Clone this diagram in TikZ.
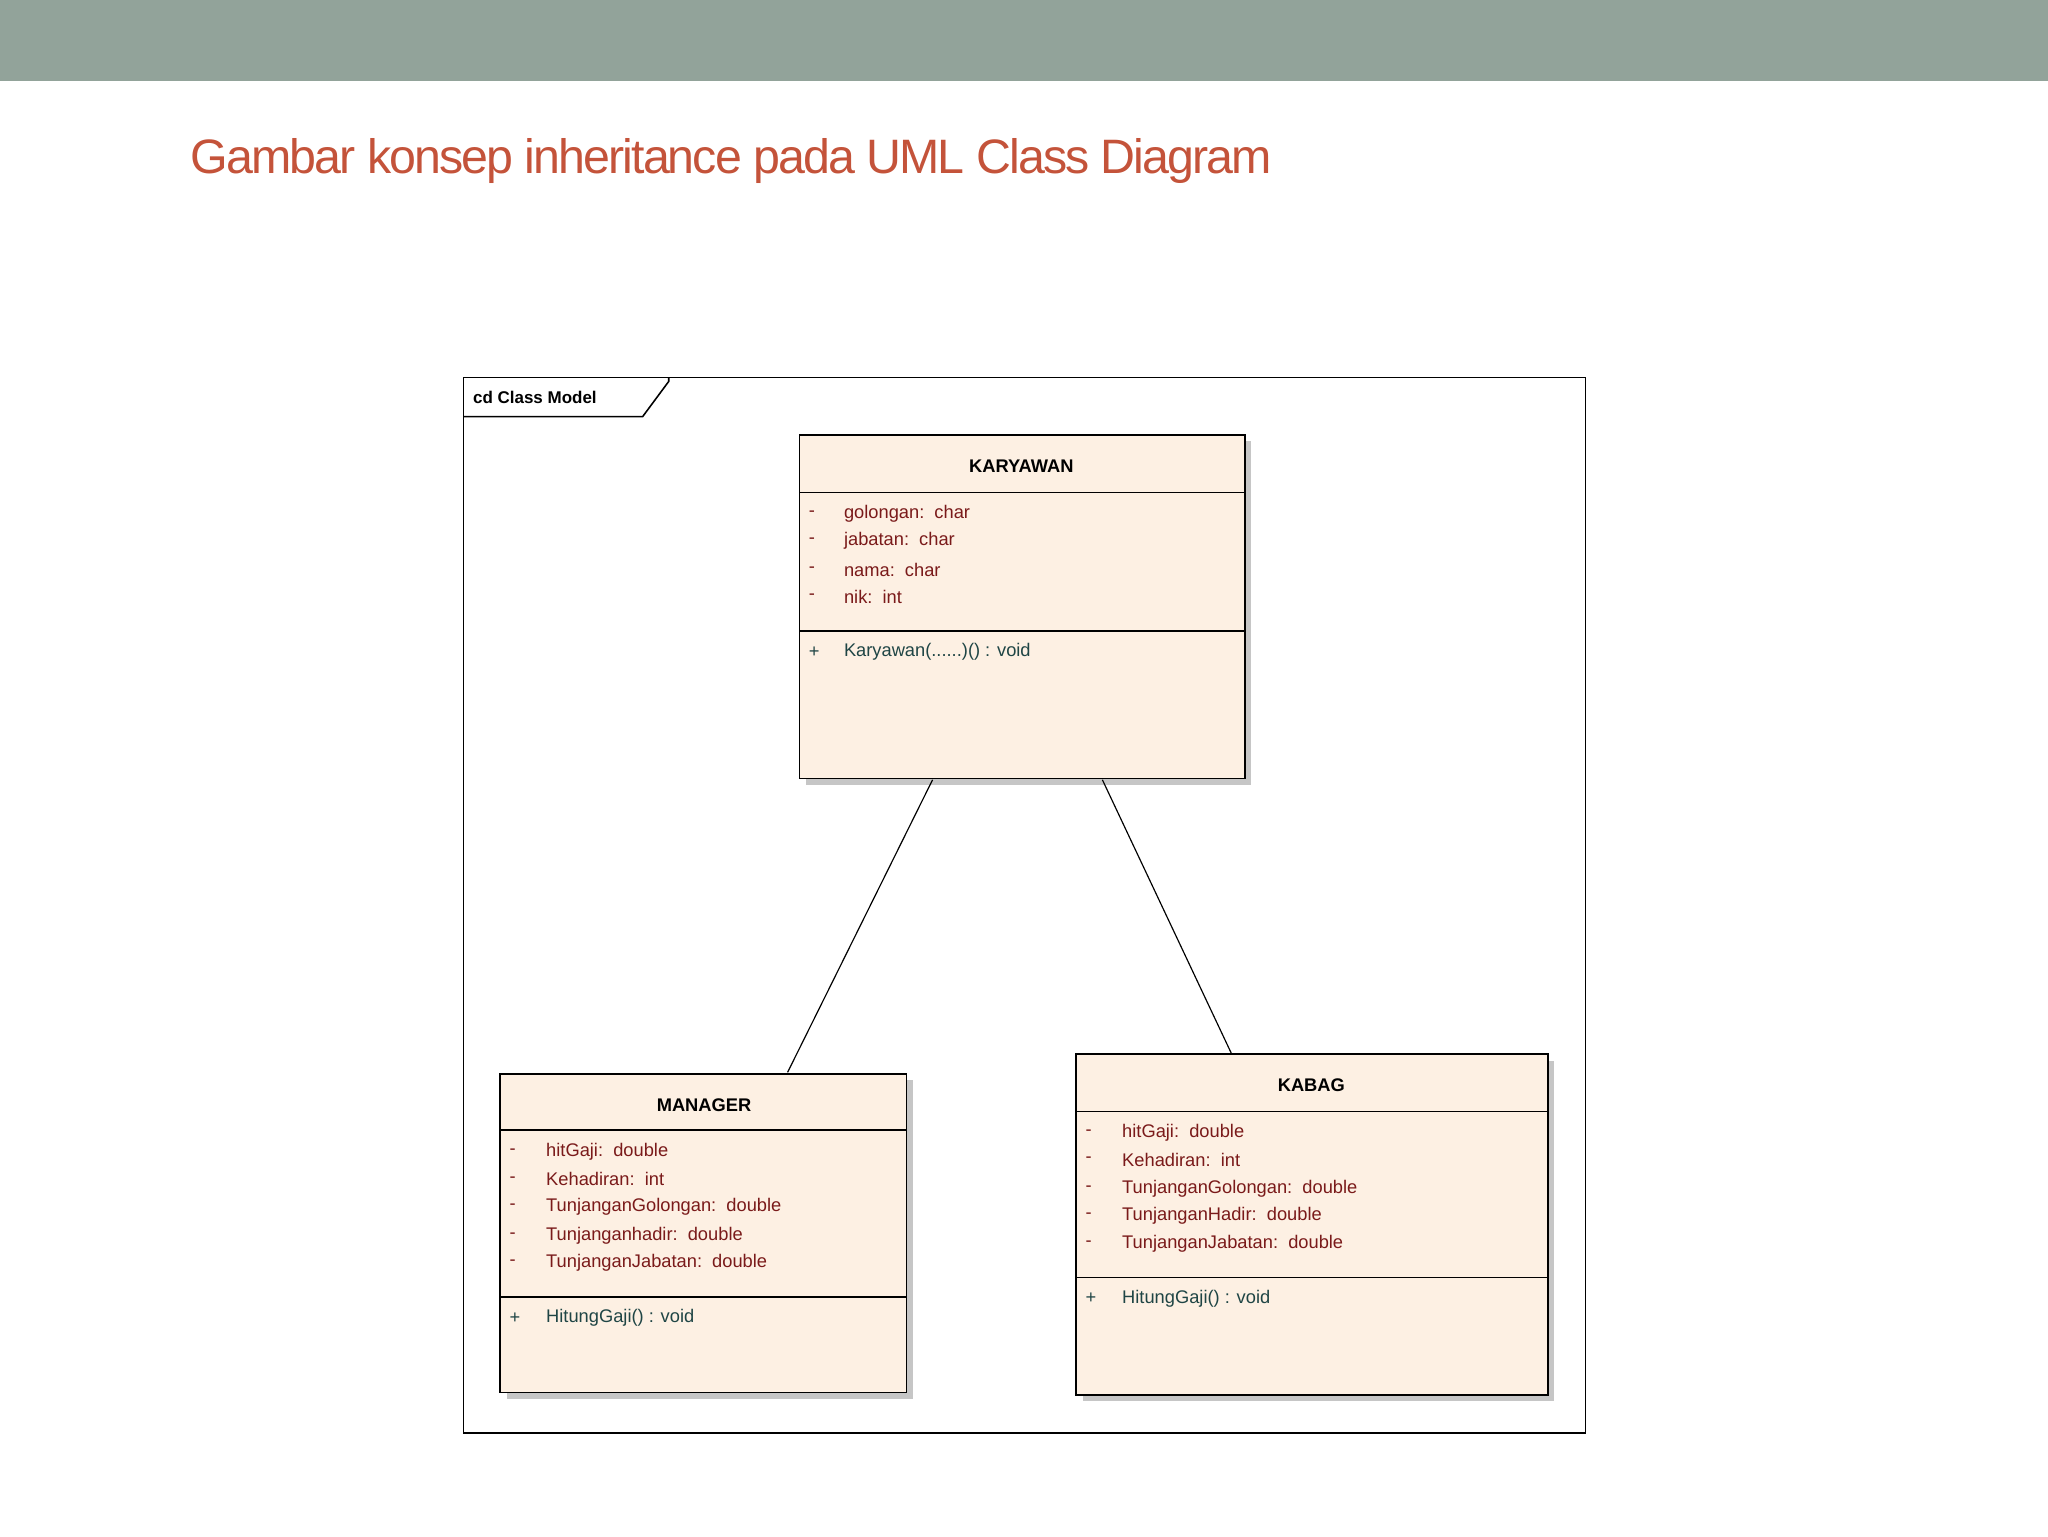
\documentclass[tikz,border=0pt]{standalone}
\usepackage{fontspec}
\setmainfont{Liberation Sans}
\begin{document}
\begin{tikzpicture}[x=1pt,y=-1pt,
  cls/.style={draw=black,line width=1.3pt,fill=boxfill},
  sep/.style={draw=black,line width=1.2pt},
  attr/.style={anchor=west,inner sep=0pt,font=\fontsize{14}{16}\selectfont,text=attrc},
  meth/.style={anchor=west,inner sep=0pt,font=\fontsize{14}{16}\selectfont,text=methc},
  head/.style={inner sep=0pt,font=\bfseries\fontsize{14}{16}\selectfont},
  link/.style={draw=black,line width=0.9pt}]
\definecolor{band}{HTML}{92A39A}
\definecolor{titlec}{HTML}{C4533A}
\definecolor{boxfill}{HTML}{FDF0E3}
\definecolor{attrc}{HTML}{7A1A1A}
\definecolor{methc}{HTML}{1F4545}
\useasboundingbox (0,0) rectangle (1568,1176);
\fill[band] (0,0) rectangle (1568,62);
\node[anchor=base west,inner sep=0pt,text=titlec,font=\fontsize{37}{40}\selectfont] (title) at (146,133) {\addfontfeature{LetterSpace=-4}Gambar konsep inheritance pada UML Class Diagram};
% frame
\draw[line width=1.2pt] (355,289) rectangle (1214,1097);
\draw[line width=1.2pt] (355,319) -- (492,319) -- (512,292) -- (512,289);
\node[anchor=west,inner sep=0pt,font=\bfseries\fontsize{13}{15}\selectfont] (frm) at (362,304) {cd Class Model};
% shadows
\fill[gray!45] (617,338) rectangle (958,601);
\fill[gray!45] (388,827) rectangle (699,1071);
\fill[gray!45] (829,812) rectangle (1190,1073);
% KARYAWAN
\draw[cls] (612,333) rectangle (953,596);
\draw[sep] (612,377) -- (953,377); \draw[sep] (612,483) -- (953,483);
\node[head] (k) at (782,357) {KARYAWAN};
\foreach \y/\t in {393/{golongan:\ \ char},414/{jabatan:\ \ char},436/{nama:\ \ char},457/{nik:\ \ int}}{
  \node[attr] at (619,\y) {-}; \node[attr] at (646,\y) {\t};}
\node[meth] at (619,499) {+}; \node[meth] at (646,499) {Karyawan(......)() : void};
% MANAGER
\draw[cls] (383,822) rectangle (694,1066);
\draw[sep] (383,865) -- (694,865); \draw[sep] (383,993) -- (694,993);
\node[head] (m) at (539,846) {MANAGER};
\foreach \y/\t in {882/{hitGaji:\ \ double},903/{Kehadiran:\ \ int},924/{TunjanganGolongan:\ \ double},946/{Tunjanganhadir:\ \ double},967/{TunjanganJabatan:\ \ double}}{
  \node[attr] at (390,\y) {-}; \node[attr] at (418,\y) {\t};}
\node[meth] at (390,1009) {+}; \node[meth] at (418,1009) {HitungGaji() : void};
% KABAG
\draw[cls] (824,807) rectangle (1185,1068);
\draw[sep] (824,851) -- (1185,851); \draw[sep] (824,978) -- (1185,978);
\node[head] (b) at (1004,831) {KABAG};
\foreach \y/\t in {867/{hitGaji:\ \ double},888/{Kehadiran:\ \ int},910/{TunjanganGolongan:\ \ double},931/{TunjanganHadir:\ \ double},952/{TunjanganJabatan:\ \ double}}{
  \node[attr] at (831,\y) {-}; \node[attr] at (859,\y) {\t};}
\node[meth] at (831,994) {+}; \node[meth] at (859,994) {HitungGaji() : void};
% links
\coordinate (k1) at (714,597); \coordinate (m1) at (603,821);
\coordinate (k2) at (844,597); \coordinate (b1) at (943,807);
\draw[link] (k1) -- (m1);
\draw[link] (k2) -- (b1);
\end{tikzpicture}
\end{document}
